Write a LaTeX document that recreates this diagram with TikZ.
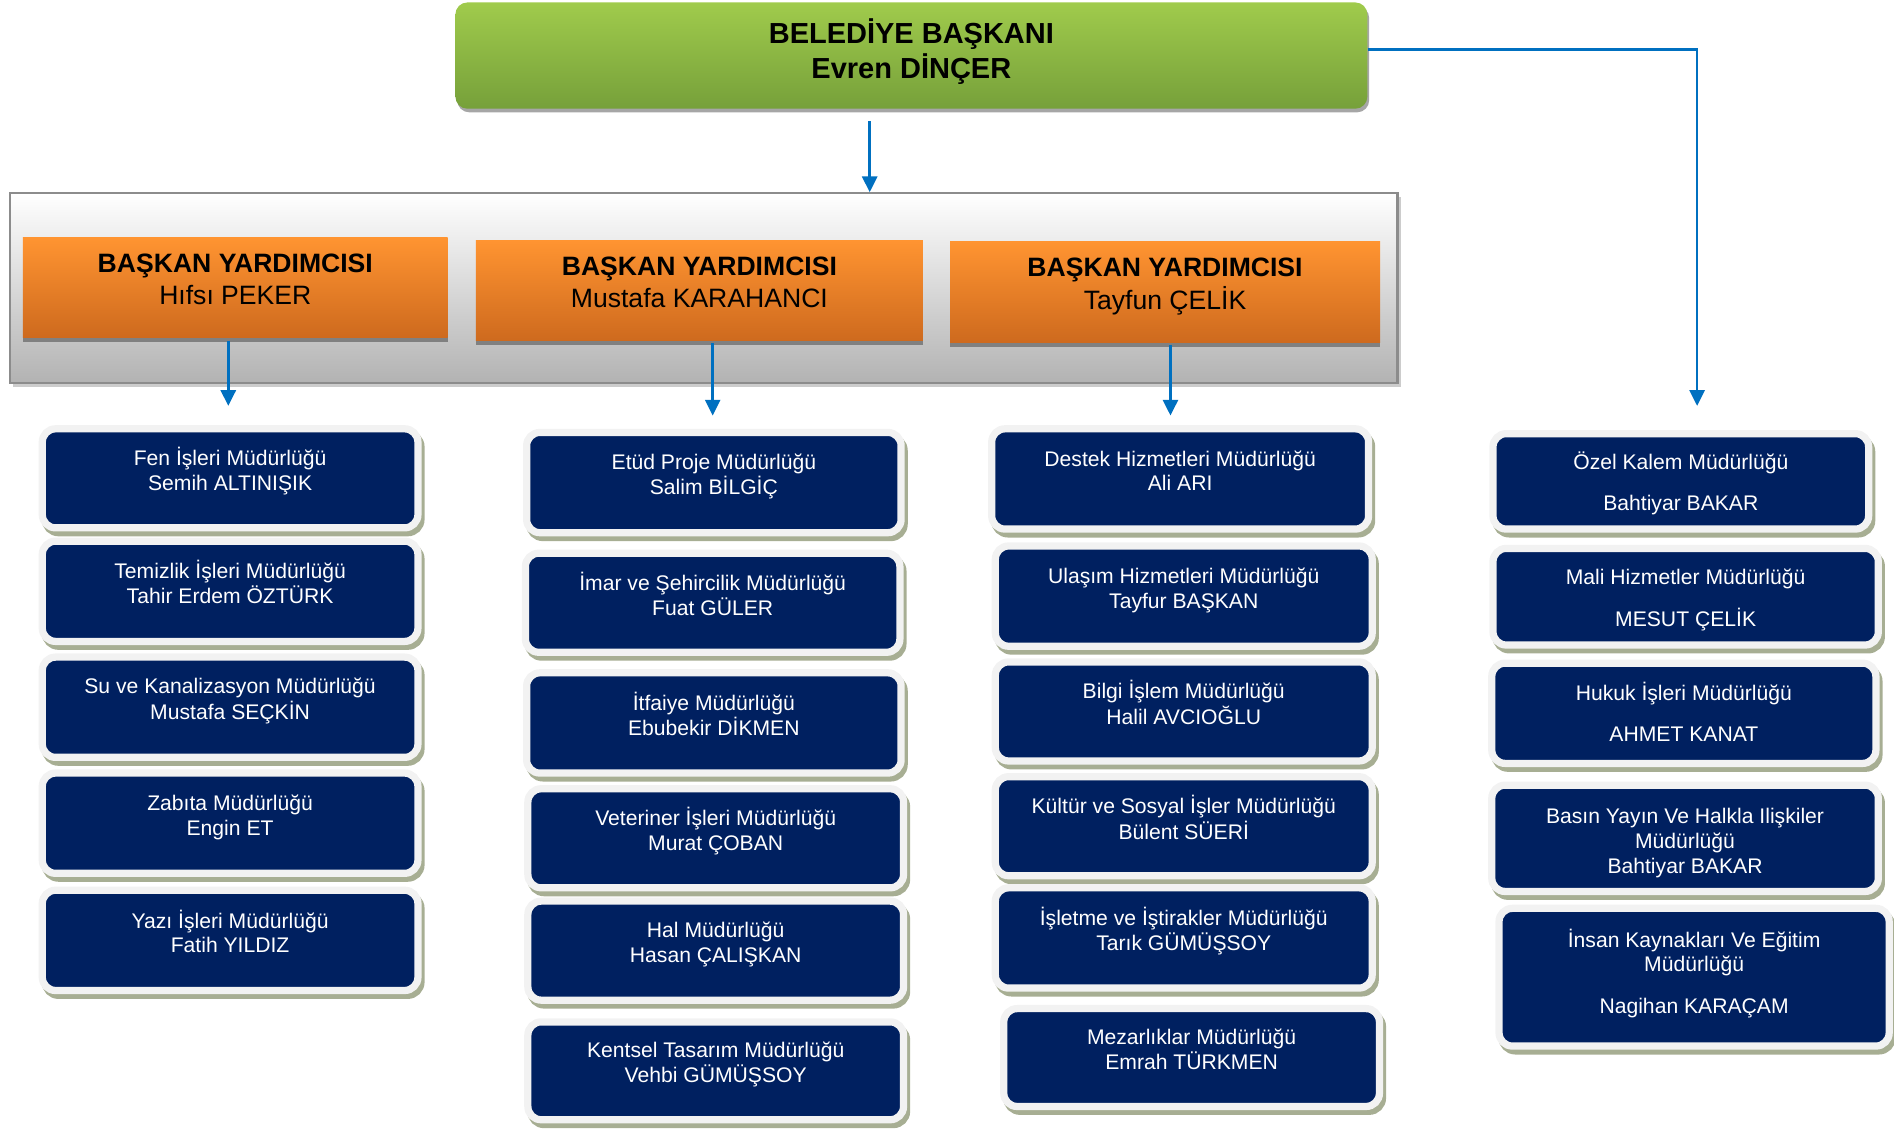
\documentclass[tikz,border=0pt]{standalone}
\usepackage{fontspec}
\setmainfont{Liberation Sans}
\usetikzlibrary{arrows.meta,shadows,calc}
\definecolor{navy}{HTML}{002060}
\definecolor{rimcol}{HTML}{F2F2F2}
\definecolor{shadolive}{HTML}{A7AE93}
\definecolor{lnblue}{HTML}{0070C0}
\definecolor{orTop}{HTML}{FF9431}
\definecolor{orBot}{HTML}{CE6A1E}
\definecolor{grTop}{HTML}{A0CB4C}
\definecolor{grBot}{HTML}{76A03A}
\newcommand\tl[2]{\raisebox{#1}[\height][\depth]{\begin{tabular}{@{}c@{}}#2\end{tabular}}}
\newcommand\dbx[6]{\node[dbox, minimum width={(#4)-(#2)+6}, minimum height={(#5)-(#3)+6}] (#1) at ({((#2)+(#4))/2},{((#3)+(#5))/2}) {#6};}
\begin{document}
\begin{tikzpicture}[x=1pt,y=-1pt,
  dbox/.style={rectangle, rounded corners=11pt, fill=navy, draw=rimcol, line width=6pt, text=white,
    font=\fontsize{17.5}{20.5}\selectfont, inner sep=0pt,
    drop shadow={shadow xshift=2.5pt, shadow yshift=-4pt, opacity=1, fill=shadolive, draw=shadolive, line width=6pt}},
  vpbox/.style={rectangle, top color=orTop, bottom color=orBot, inner sep=0pt, text=black,
    font=\fontsize{22}{26}\selectfont,
    drop shadow={shadow xshift=0pt, shadow yshift=-4pt, opacity=1, fill=black!50}},
  gbox/.style={rectangle, rounded corners=10pt, top color=grTop, bottom color=grBot, inner sep=0pt, text=black,
    font=\bfseries\fontsize{24}{27.5}\selectfont,
    drop shadow={shadow xshift=1.5pt, shadow yshift=-3pt, opacity=1, fill=black!35}},
  contbox/.style={rectangle, draw=black!45, line width=1.8pt, top color=white, middle color=black!8, bottom color=black!30,
    inner sep=0pt,
    drop shadow={shadow xshift=3pt, shadow yshift=-3pt, opacity=1, fill=black!20}},
  arr/.style={draw=lnblue, line width=2pt, -{Triangle[width=12.5pt,length=13pt]}}
]
\useasboundingbox (0,0) rectangle (1568,934);

% top
\node[gbox, minimum width=755, minimum height=88] (top) at (754.5,46) {\tl{1.5pt}{BELEDİYE BAŞKANI\\Evren DİNÇER}};

% container
\node[contbox, minimum width=1149, minimum height=157] (cont) at (582.5,238.5) {};

% vice mayors
\node[vpbox, minimum width=351.6, minimum height=82] (vp1) at (194.8,238) {\tl{4.5pt}{\textbf{BAŞKAN YARDIMCISI}\\Hıfsı PEKER}};
\node[vpbox, minimum width=370, minimum height=83] (vp2) at (579,240.5) {\tl{4.5pt}{\textbf{BAŞKAN YARDIMCISI}\\Mustafa KARAHANCI}};
\node[vpbox, minimum width=356, minimum height=83] (vp3) at (964.5,241.7) {\tl{4.5pt}{\textbf{BAŞKAN YARDIMCISI}\\Tayfun ÇELİK}};

% arrows
\coordinate (ax) at (720,0);
\draw[arr, shorten <=10pt] (top.south -| ax) -- (cont.north -| ax);
\coordinate (rc) at (1405,336);
\draw[arr] ([yshift=5pt]top.east) -| (rc);
\coordinate (e1) at (189,336);
\coordinate (e2) at (590,344);
\coordinate (e3) at (969,344);
\draw[arr, shorten <=3pt] (vp1.south -| e1) -- (e1);
\draw[arr, shorten <=2pt] (vp2.south -| e2) -- (e2);
\draw[arr, shorten <=2pt] (vp3.south -| e3) -- (e3);

% column 1
\dbx{c1a}{38}{358}{343}{434}{\tl{4.5pt}{Fen İşleri Müdürlüğü\\Semih ALTINIŞIK}}
\dbx{c1b}{38}{451}{343}{528}{\tl{4.5pt}{Temizlik İşleri Müdürlüğü\\Tahir Erdem ÖZTÜRK}}
\dbx{c1c}{38}{547}{343}{624}{\tl{4.5pt}{Su ve Kanalizasyon Müdürlüğü\\Mustafa SEÇKİN}}
\dbx{c1d}{38}{643}{343}{720}{\tl{4.5pt}{Zabıta Müdürlüğü\\Engin ET}}
\dbx{c1e}{38}{740}{343}{817}{\tl{4.5pt}{Yazı İşleri Müdürlüğü\\Fatih YILDIZ}}

% column 2
\dbx{c2a}{439}{361}{743}{438}{\tl{4.5pt}{Etüd Proje Müdürlüğü\\Salim BİLGİÇ}}
\dbx{c2b}{438}{461}{742}{537}{\tl{4.5pt}{İmar ve Şehircilik Müdürlüğü\\Fuat GÜLER}}
\dbx{c2c}{439}{560}{743}{637}{\tl{4.5pt}{İtfaiye Müdürlüğü\\Ebubekir DİKMEN}}
\dbx{c2d}{440}{656}{745}{732}{\tl{4.5pt}{Veteriner İşleri Müdürlüğü\\Murat ÇOBAN}}
\dbx{c2e}{440}{749}{745}{825}{\tl{4.5pt}{Hal Müdürlüğü\\Hasan ÇALIŞKAN}}
\dbx{c2f}{440}{849}{745}{924}{\tl{4.5pt}{Kentsel Tasarım Müdürlüğü\\Vehbi GÜMÜŞSOY}}

% column 3
\dbx{c3a}{824}{358}{1130}{435}{\tl{4.5pt}{Destek Hizmetleri Müdürlüğü\\Ali ARI}}
\dbx{c3b}{827}{455}{1133}{532}{\tl{4.5pt}{Ulaşım Hizmetleri Müdürlüğü\\Tayfur BAŞKAN}}
\dbx{c3c}{827}{551}{1133}{627}{\tl{4.5pt}{Bilgi İşlem Müdürlüğü\\Halil AVCIOĞLU}}
\dbx{c3d}{827}{646}{1133}{722}{\tl{4.5pt}{Kültür ve Sosyal İşler Müdürlüğü\\Bülent SÜERİ}}
\dbx{c3e}{827}{738}{1133}{815}{\tl{4.5pt}{İşletme ve İştirakler Müdürlüğü\\Tarık GÜMÜŞSOY}}
\dbx{c3f}{834}{838}{1139}{913}{\tl{4.5pt}{Mezarlıklar Müdürlüğü\\Emrah TÜRKMEN}}

% column 4
\dbx{c4a}{1239}{362}{1544}{435}{\tl{-3pt}{Özel Kalem Müdürlüğü\\[14pt]Bahtiyar BAKAR}}
\dbx{c4b}{1239}{457}{1552}{531}{\tl{-3pt}{Mali Hizmetler Müdürlüğü\\[13pt]MESUT ÇELİK}}
\dbx{c4c}{1238}{552}{1550}{629}{\tl{-2pt}{Hukuk İşleri Müdürlüğü\\[13pt]AHMET KANAT}}
\dbx{c4d}{1238}{653}{1552}{735}{\tl{-4.5pt}{Basın Yayın Ve Halkla Ilişkiler\\Müdürlüğü\\Bahtiyar BAKAR}}
\dbx{c4e}{1244}{755}{1561}{863}{\tl{2pt}{İnsan Kaynakları Ve Eğitim\\Müdürlüğü\\[14pt]Nagihan KARAÇAM}}
\end{tikzpicture}
\end{document}
